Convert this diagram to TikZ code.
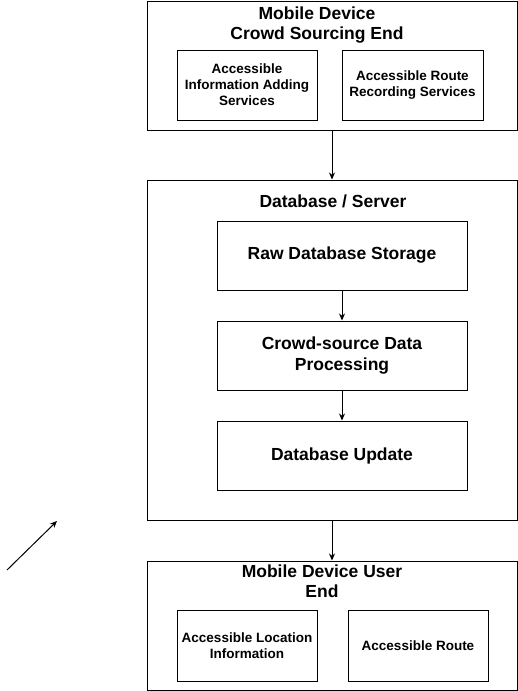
\documentclass[tikz,border=0pt]{standalone}
\usepackage{fontspec}
\setmainfont{Liberation Sans}
\usetikzlibrary{arrows.meta, positioning}

\begin{document}
\begin{tikzpicture}[x=1pt, y=-1pt, >={Stealth[length=7pt, width=6pt]}, line width=1pt,
  outerbox/.style={draw, minimum width=370pt, inner sep=0pt},
  innerbox/.style={draw, align=center, inner sep=0pt, font=\bfseries\fontsize{13.5}{16}\selectfont},
  midbox/.style={draw, align=center, inner sep=0pt, minimum width=250pt, minimum height=69pt,
                 font=\bfseries\fontsize{17.5}{21}\selectfont},
  heading/.style={align=center, font=\bfseries\fontsize{17.5}{20}\selectfont}]
  \useasboundingbox (0,0) rectangle (518,691);

  % Crowd sourcing end
  \node[outerbox, minimum height=129pt] (crowd) at (332,65.5) {};
  \node[heading] (crowdtitle) at (317,25.5) {Mobile Device\\Crowd Sourcing End};
  \node[innerbox, minimum width=140pt, minimum height=70pt] (infoadd) at (247,85)
    {Accessible\\Information Adding\\Services};
  \node[innerbox, minimum width=141pt, minimum height=70pt, right=24pt of infoadd] (routerec)
    {Accessible Route\\Recording Services};

  % Database / server
  \node[outerbox, minimum height=340pt] (server) at (332,350) {};
  \node[heading] (servertitle) at (333,201) {Database / Server};
  \node[midbox] (raw) at (342,255.5) {Raw Database Storage};
  \node[midbox, below=30pt of raw] (process) {Crowd-source Data\\Processing};
  \node[midbox, below=30pt of process] (update) {Database Update};

  % User end
  \node[outerbox, minimum height=129pt] (user) at (332,625.5) {};
  \node[heading] (usertitle) at (322,581) {Mobile Device User\\End};
  \node[innerbox, minimum width=140pt, minimum height=71pt] (locinfo) at (247,645.5)
    {Accessible Location\\Information};
  \node[innerbox, minimum width=140pt, minimum height=71pt, right=30pt of locinfo] (route)
    {Accessible Route};

  % Flow arrows
  \draw[->] (crowd) -- (server);
  \draw[->] (raw) -- (process);
  \draw[->] (process) -- (update);
  \draw[->] (server) -- (user);

  % Loose arrow on the left
  \coordinate (loosestart) at (7,570);
  \coordinate (looseend) at (57,521);
  \draw[->] (loosestart) -- (looseend);
\end{tikzpicture}
\end{document}
